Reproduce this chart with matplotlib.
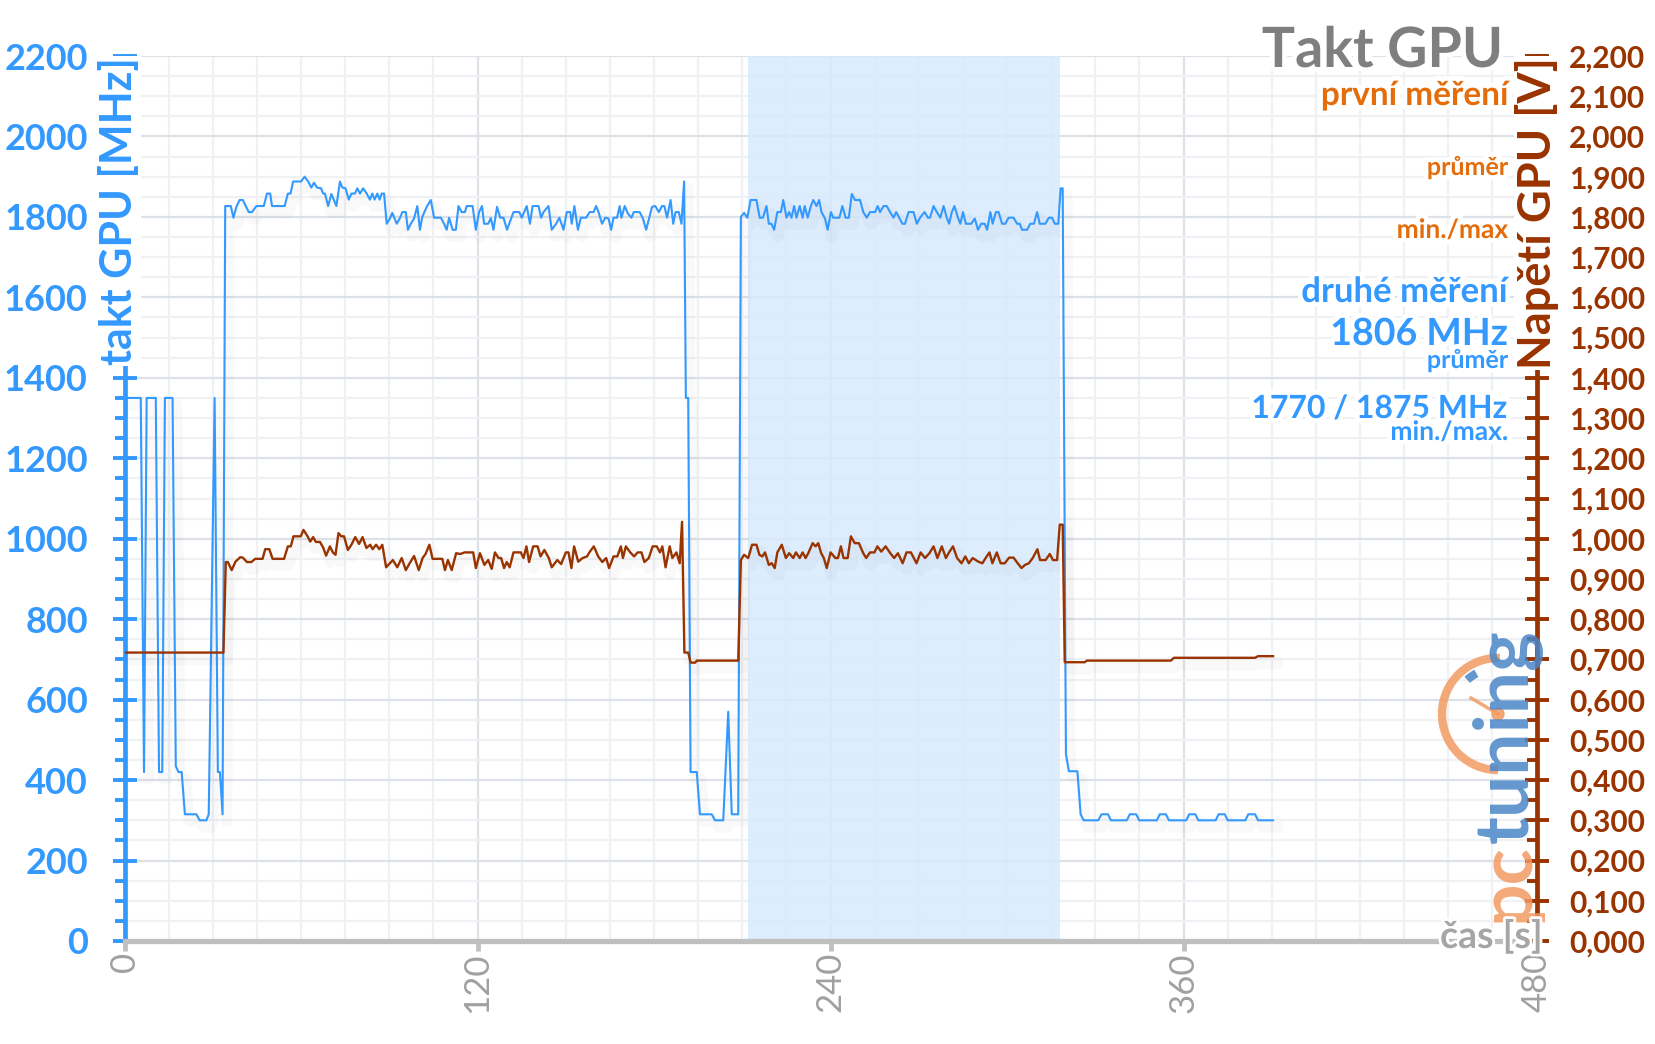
import matplotlib
matplotlib.use('Agg')
import matplotlib.pyplot as plt
import matplotlib.patheffects as pe
from matplotlib.ticker import MultipleLocator, FuncFormatter
from matplotlib.patches import Arc, Circle

plt.rcParams['font.family'] = ['Lato', 'DejaVu Sans']

BLUE = '#3399ff'
BROWN = '#993300'
ORANGE = '#e46c0a'
AXGRAY = '#bfbfbf'

# GPU clock [MHz], (time s, value)
clk_idle_a = [(1.0, 1350), (5.5, 1350), (6.6, 420), (7.5, 1350), (10.6, 1350), (11.7, 420),
              (12.8, 420), (13.7, 1350), (16.3, 1350), (17.4, 435), (18.3, 420), (19.4, 420),
              (20.5, 315), (24.4, 315), (25.5, 300), (27.8, 300), (28.6, 315), (30.6, 1350),
              (31.7, 420), (32.4, 420), (33.3, 315)]
clk_load_1 = [(34.2, 1827), (36.1, 1827), (37.0, 1798), (38.0, 1825), (39.1, 1842), (40.2, 1842),
              (42.2, 1812), (43.3, 1812), (44.8, 1827), (47.3, 1827), (48.4, 1858), (49.5, 1858),
              (50.1, 1827), (54.4, 1827), (55.5, 1858), (56.4, 1858), (57.3, 1888), (60.0, 1888),
              (61.2, 1900), (62.4, 1888), (63.5, 1873), (64.4, 1885), (65.4, 1873), (66.8, 1871),
              (67.5, 1858), (68.1, 1858), (69.2, 1827), (70.3, 1857), (72.0, 1827), (73.2, 1888),
              (74.0, 1873), (75.1, 1871), (76.2, 1843), (77.1, 1858), (78.3, 1858), (79.1, 1871),
              (80.0, 1858), (81.1, 1871), (82.3, 1858), (83.4, 1843), (84.2, 1858), (85.0, 1843),
              (85.9, 1858), (86.7, 1843), (87.4, 1858), (88.2, 1858), (89.1, 1783), (90.2, 1796),
              (91.0, 1810), (92.5, 1783), (93.6, 1797), (94.4, 1812), (95.6, 1812), (96.3, 1768),
              (97.3, 1783), (98.4, 1796), (99.5, 1827), (100.4, 1768), (101.2, 1800), (102.7, 1825),
              (104.1, 1842), (105.2, 1798), (107.5, 1798), (108.6, 1783), (109.5, 1768), (110.3, 1798),
              (111.5, 1768), (112.6, 1768), (113.5, 1827), (114.6, 1812), (115.7, 1812), (116.3, 1827),
              (118.3, 1827), (119.4, 1768), (120.5, 1812), (121.5, 1827), (122.2, 1783), (123.6, 1783),
              (124.5, 1797), (125.4, 1768), (126.6, 1825), (127.7, 1798), (128.8, 1798), (130.0, 1768),
              (132.2, 1812), (134.2, 1812), (135.0, 1798), (136.7, 1827), (137.8, 1783), (138.7, 1827),
              (140.7, 1827), (141.6, 1798), (142.4, 1812), (144.1, 1827), (145.2, 1768), (146.7, 1783),
              (147.8, 1798), (149.2, 1768), (150.3, 1812), (151.5, 1812), (152.0, 1783), (152.9, 1827),
              (154.1, 1768), (155.1, 1798), (156.9, 1798), (158.1, 1812), (159.4, 1812), (160.3, 1827),
              (161.1, 1812), (162.3, 1783), (163.4, 1798), (164.5, 1796), (165.4, 1768), (166.2, 1798),
              (167.4, 1798), (168.3, 1827), (168.9, 1798), (170.0, 1827), (171.1, 1808), (172.3, 1798),
              (173.1, 1812), (175.1, 1812), (176.2, 1796), (177.3, 1768), (179.3, 1825), (180.4, 1827),
              (181.6, 1812), (182.7, 1827), (183.5, 1827), (184.4, 1798), (185.6, 1842), (186.5, 1783),
              (187.3, 1812), (188.4, 1812), (189.3, 1783), (190.2, 1888)]
clk_gap = [(190.8, 1350), (191.6, 1350), (192.4, 420), (194.5, 420), (195.6, 315), (199.6, 315),
           (200.7, 300), (203.5, 300), (205.2, 570), (206.4, 315), (208.6, 315)]
clk_load_2 = [(209.5, 1800), (210.6, 1810), (211.7, 1798), (212.8, 1842), (214.8, 1842), (215.9, 1798),
              (217.0, 1798), (218.2, 1827), (219.0, 1783), (219.9, 1783), (220.8, 1768), (221.9, 1812),
              (223.1, 1812), (223.9, 1842), (225.0, 1798), (225.9, 1812), (226.7, 1798), (227.6, 1827),
              (228.4, 1798), (229.5, 1827), (230.5, 1798), (231.2, 1827), (232.2, 1798), (233.3, 1827),
              (234.1, 1842), (235.2, 1827), (236.1, 1842), (236.9, 1812), (238.1, 1796), (239.0, 1768),
              (240.1, 1812), (240.9, 1798), (243.0, 1798), (244.0, 1827), (245.1, 1798), (246.2, 1798),
              (247.2, 1857), (248.3, 1842), (250.0, 1842), (251.1, 1812), (252.3, 1798), (253.4, 1812),
              (255.1, 1812), (256.0, 1827), (256.8, 1812), (258.0, 1827), (259.1, 1827), (260.2, 1812),
              (261.4, 1798), (262.3, 1812), (263.3, 1798), (264.4, 1783), (265.3, 1783), (266.5, 1812),
              (268.2, 1812), (269.3, 1783), (270.4, 1798), (271.9, 1812), (273.1, 1798), (273.8, 1798),
              (275.0, 1827), (276.1, 1812), (277.3, 1798), (278.4, 1827), (279.5, 1798), (280.3, 1783),
              (281.2, 1812), (282.1, 1827), (283.3, 1798), (284.1, 1783), (285.0, 1812), (286.0, 1783),
              (287.8, 1783), (289.0, 1796), (290.1, 1768), (291.2, 1783), (292.4, 1783), (293.2, 1768),
              (294.3, 1812), (295.1, 1783), (296.2, 1812), (297.1, 1812), (298.3, 1783), (299.4, 1783),
              (300.5, 1798), (302.2, 1798), (303.4, 1783), (304.3, 1783), (305.1, 1768), (306.8, 1768),
              (307.9, 1783), (309.1, 1783), (310.2, 1812), (311.1, 1783), (313.0, 1783), (314.2, 1798),
              (315.3, 1798), (316.2, 1783), (317.4, 1783), (318.2, 1871), (318.9, 1871)]
clk_idle_b = [(320.0, 465), (321.0, 422), (323.9, 422), (325.0, 315), (326.0, 300), (331.0, 300),
              (332.1, 315), (334.3, 315), (335.3, 300), (340.7, 300), (341.7, 315), (343.9, 315),
              (344.9, 300), (350.9, 300), (351.9, 315), (354.0, 315), (355.0, 300), (360.9, 300),
              (361.9, 315), (364.0, 315), (365.0, 300), (370.9, 300), (371.9, 315), (374.0, 315),
              (375.0, 300), (381.0, 300), (382.0, 315), (384.3, 315), (385.3, 300), (390.4, 300)]

# GPU voltage [V]
volt_idle_a = [(0.5, 0.717), (33.6, 0.717)]
volt_load_1 = [(34.4, 0.942), (35.1, 0.942), (36.4, 0.922), (37.7, 0.943), (39.3, 0.954), (40.2, 0.953),
               (41.6, 0.942), (43.1, 0.942), (44.4, 0.950), (46.9, 0.950), (47.8, 0.974), (49.2, 0.974),
               (50.3, 0.950), (54.2, 0.950), (55.5, 0.981), (56.5, 0.981), (57.4, 1.006), (59.9, 1.006),
               (60.8, 1.022), (62.2, 1.006), (63.1, 0.993), (64.1, 1.004), (65.0, 0.992), (66.4, 0.992),
               (67.5, 0.978), (68.5, 0.958), (69.8, 0.981), (70.8, 0.966), (71.7, 0.960), (72.7, 1.014),
               (73.6, 1.006), (74.6, 1.006), (75.9, 0.972), (77.1, 0.985), (78.4, 1.004), (79.7, 0.987),
               (80.9, 1.004), (82.2, 0.977), (83.5, 0.985), (84.3, 0.974), (85.5, 0.985), (86.6, 0.974),
               (87.6, 0.985), (88.9, 0.929), (90.2, 0.939), (91.2, 0.947), (92.7, 0.929), (94.2, 0.952),
               (95.6, 0.922), (96.9, 0.939), (98.4, 0.957), (100.0, 0.922), (101.3, 0.952), (102.3, 0.962),
               (103.6, 0.985), (104.7, 0.950), (108.0, 0.950), (108.9, 0.922), (109.9, 0.947), (111.2, 0.922),
               (112.7, 0.964), (114.1, 0.962), (115.6, 0.966), (118.5, 0.966), (119.4, 0.927), (120.8, 0.964),
               (122.3, 0.935), (123.6, 0.947), (124.8, 0.925), (125.9, 0.966), (127.1, 0.952), (128.0, 0.952),
               (129.0, 0.927), (129.9, 0.942), (130.9, 0.929), (132.2, 0.966), (134.7, 0.966), (135.6, 0.952),
               (136.6, 0.981), (137.5, 0.942), (138.9, 0.981), (140.4, 0.981), (141.4, 0.956), (142.7, 0.972),
               (144.2, 0.952), (145.2, 0.929), (147.1, 0.947), (148.4, 0.937), (150.0, 0.966), (150.9, 0.966),
               (151.9, 0.927), (152.8, 0.981), (154.2, 0.943), (155.7, 0.952), (157.2, 0.956), (158.0, 0.966),
               (159.5, 0.981), (161.0, 0.956), (162.4, 0.942), (163.7, 0.952), (164.7, 0.927), (166.2, 0.956),
               (167.5, 0.956), (168.7, 0.981), (169.4, 0.952), (170.4, 0.981), (171.9, 0.966), (173.2, 0.956),
               (174.4, 0.966), (175.7, 0.966), (176.7, 0.942), (178.2, 0.952), (179.5, 0.981), (180.9, 0.981),
               (182.0, 0.966), (182.8, 0.981), (183.9, 0.929), (185.3, 0.981), (186.2, 0.952), (187.6, 0.966),
               (188.7, 0.939), (189.5, 1.042)]
volt_gap = [(190.3, 0.717), (191.6, 0.717), (192.4, 0.692), (194.0, 0.692), (194.5, 0.697), (208.6, 0.697)]
volt_load_2 = [(209.5, 0.947), (210.6, 0.960), (212.0, 0.952), (213.3, 0.985), (214.8, 0.985), (215.8, 0.960),
               (216.8, 0.956), (217.7, 0.966), (219.0, 0.935), (220.0, 0.939), (221.0, 0.927), (221.9, 0.966),
               (223.4, 0.985), (224.8, 0.952), (225.9, 0.964), (227.3, 0.952), (228.2, 0.966), (229.5, 0.952),
               (230.5, 0.966), (231.5, 0.952), (232.4, 0.964), (233.9, 0.989), (234.9, 0.981), (235.8, 0.989),
               (236.8, 0.964), (237.7, 0.952), (238.7, 0.927), (240.0, 0.966), (241.6, 0.952), (242.5, 0.952),
               (243.5, 0.981), (244.4, 0.952), (245.8, 0.952), (246.9, 1.006), (248.2, 0.989), (249.6, 0.989),
               (251.1, 0.964), (252.1, 0.952), (253.4, 0.966), (254.9, 0.966), (255.9, 0.981), (257.2, 0.968),
               (258.7, 0.981), (260.3, 0.964), (261.6, 0.952), (262.9, 0.964), (264.5, 0.939), (265.8, 0.966),
               (267.3, 0.966), (269.2, 0.939), (270.6, 0.966), (272.1, 0.952), (273.6, 0.964), (275.0, 0.981),
               (276.3, 0.952), (277.8, 0.981), (279.2, 0.952), (280.1, 0.964), (281.6, 0.981), (283.0, 0.952),
               (284.5, 0.939), (285.8, 0.956), (287.0, 0.939), (288.3, 0.952), (290.2, 0.943), (291.6, 0.939),
               (292.7, 0.952), (294.0, 0.966), (295.0, 0.939), (296.5, 0.966), (297.8, 0.939), (299.2, 0.939),
               (300.7, 0.953), (302.2, 0.953), (303.6, 0.939), (304.9, 0.927), (306.1, 0.935), (307.4, 0.939),
               (308.7, 0.952), (310.3, 0.974), (311.2, 0.947), (313.1, 0.947), (314.5, 0.962), (315.6, 0.947),
               (317.0, 0.947), (317.9, 1.035), (318.9, 1.035)]
volt_idle_b = [(319.6, 0.693), (326.4, 0.693), (327.1, 0.697), (355.7, 0.697), (356.7, 0.704),
               (384.3, 0.704), (385.3, 0.708), (390.4, 0.708)]

second_run = (212, 318)   # highlighted span [s]
x_ticks = [0, 120, 240, 360, 480]

clk = clk_idle_a + clk_load_1 + clk_gap + clk_load_2 + clk_idle_b
volt = volt_idle_a + volt_load_1 + volt_gap + volt_load_2 + volt_idle_b

W, H = 1656, 1044
fig = plt.figure(figsize=(W / 100, H / 100), dpi=100)
ax = fig.add_axes([124.6 / W, 103 / H, 1412 / W, 885 / H])
ax2 = ax.twinx()

ax.set_axisbelow(True)
ax.axvspan(*second_run, color='#d8eafd', alpha=0.85, lw=0, zorder=1)

shadow = [pe.SimpleLineShadow(offset=(3, -5), shadow_color='k', alpha=0.025, linewidth=8), pe.Normal()]
ax.plot([p[0] for p in clk], [p[1] for p in clk], color=BLUE, lw=1.5, zorder=3, path_effects=shadow)
ax2.plot([p[0] for p in volt], [p[1] for p in volt], color=BROWN, lw=1.7, zorder=3, path_effects=shadow)

ax.set_xlim(0, 480)
ax.set_ylim(0, 2200)
ax2.set_ylim(0, 2.2)

ax.xaxis.set_major_locator(MultipleLocator(120))
ax.xaxis.set_minor_locator(MultipleLocator(15))
ax.yaxis.set_major_locator(MultipleLocator(200))
ax.yaxis.set_minor_locator(MultipleLocator(50))
ax2.yaxis.set_major_locator(MultipleLocator(0.1))
ax2.yaxis.set_minor_locator(MultipleLocator(0.05))
ax2.yaxis.set_major_formatter(FuncFormatter(lambda v, p: f'{v:.3f}'.replace('.', ',')))

ax.grid(which='major', color='#dde1e8', lw=1.6)
ax.grid(which='minor', color='#eff1f4', lw=1.6)

for s in ['top', 'right']:
    ax.spines[s].set_visible(False)
for s in ['top', 'left', 'bottom']:
    ax2.spines[s].set_visible(False)
ax.spines['left'].set_color(BLUE)
ax.spines['left'].set_linewidth(3.4)
ax.spines['bottom'].set_color(AXGRAY)
ax.spines['bottom'].set_linewidth(3.8)
ax2.spines['right'].set_color(BROWN)
ax2.spines['right'].set_linewidth(3.4)

ax.tick_params(axis='y', which='major', direction='inout', length=17, width=2.8,
               color=BLUE, labelcolor=BLUE, labelsize=26, pad=18)
ax.tick_params(axis='y', which='minor', direction='out', length=7, width=2.8, color=BLUE)
for lab in ax.get_yticklabels():
    lab.set_fontweight('bold')
ax2.tick_params(axis='y', which='major', direction='inout', length=17, width=2.8,
                color=BROWN, labelcolor=BROWN, labelsize=21.5, pad=15)
ax2.tick_params(axis='y', which='minor', direction='in', length=7, width=2.8, color=BROWN)
for lab in ax2.get_yticklabels():
    lab.set_fontweight('bold')
ax.tick_params(axis='x', which='major', direction='out', length=7, width=3.4, color=AXGRAY,
               labelcolor='#a0a0a0', labelsize=25, pad=1, labelrotation=90)
ax.tick_params(axis='x', which='minor', length=0)
ax.set_xticks(x_ticks)

# overlay in pixel coordinates for the texts and the logo
ov = fig.add_axes([0, 0, 1, 1])
ov.set_xlim(0, W)
ov.set_ylim(0, H)
ov.axis('off')
glow = [pe.withStroke(linewidth=7, foreground='white')]
white_box = dict(facecolor='white', edgecolor='none', pad=1)

ov.text(119, 987, 'takt GPU [MHz]', rotation=90, ha='center', va='top', color=BLUE,
        fontsize=31, fontweight='bold', bbox=white_box)
ov.text(1537, 987, 'Napětí GPU [V]', rotation=90, ha='center', va='top', color=BROWN,
        fontsize=32.5, fontweight='bold', bbox=white_box)

right_x = 1508
ov.text(1503, 977, 'Takt GPU', ha='right', va='baseline', color='#7f7f7f', fontsize=40,
        fontweight='bold', path_effects=glow)
ov.text(right_x, 939, 'první měření', ha='right', va='baseline', color=ORANGE, fontsize=24,
        fontweight='bold', path_effects=glow)
ov.text(right_x, 869, 'průměr', ha='right', va='baseline', color=ORANGE, fontsize=18,
        fontweight='bold', path_effects=glow)
ov.text(right_x, 806, 'min./max', ha='right', va='baseline', color=ORANGE, fontsize=19,
        fontweight='bold', path_effects=glow)
ov.text(right_x, 742, 'druhé měření', ha='right', va='baseline', color=BLUE, fontsize=25,
        fontweight='bold', path_effects=glow)
ov.text(right_x, 699, '1806 MHz', ha='right', va='baseline', color=BLUE, fontsize=27,
        fontweight='bold', path_effects=glow)
ov.text(right_x, 676, 'průměr', ha='right', va='baseline', color=BLUE, fontsize=18,
        fontweight='bold', path_effects=glow)
ov.text(right_x, 626, '1770 / 1875 MHz', ha='right', va='baseline', color=BLUE, fontsize=23,
        fontweight='bold', path_effects=glow)
ov.text(right_x, 604, 'min./max.', ha='right', va='baseline', color=BLUE, fontsize=19,
        fontweight='bold', path_effects=glow)

# pctuning logo
logo_or = '#f39a62'
logo_bl = '#4a86c8'
t1 = ov.text(1528, 122, 'pc', rotation=90, rotation_mode='anchor', ha='left', va='baseline',
             color=logo_or, fontsize=54, fontweight='bold', alpha=0.85)
fig.canvas.draw()
bb = t1.get_window_extent(fig.canvas.get_renderer())
ov.text(1528, bb.y1, 'tuning', rotation=90, rotation_mode='anchor', ha='left', va='baseline',
        color=logo_bl, fontsize=54, fontweight='bold', alpha=0.85)
ov.add_patch(Arc((1498, 330), 112, 112, theta1=88, theta2=270, lw=6, color=logo_or, alpha=0.85))
ov.add_patch(Arc((1498, 330), 92, 92, theta1=118, theta2=132, lw=6, color=logo_bl, alpha=0.85))
ov.plot([1498, 1471], [330, 346], color=logo_or, lw=2.5, alpha=0.85)
ov.add_patch(Circle((1498, 330), 6, color=logo_or, alpha=0.85))

ov.text(1543, 108, 'čas [s]', ha='right', va='center', color='#a6a6a6', fontsize=27,
        fontweight='bold', path_effects=[pe.withStroke(linewidth=4, foreground='white')])

fig.savefig('out.png', dpi=100)
